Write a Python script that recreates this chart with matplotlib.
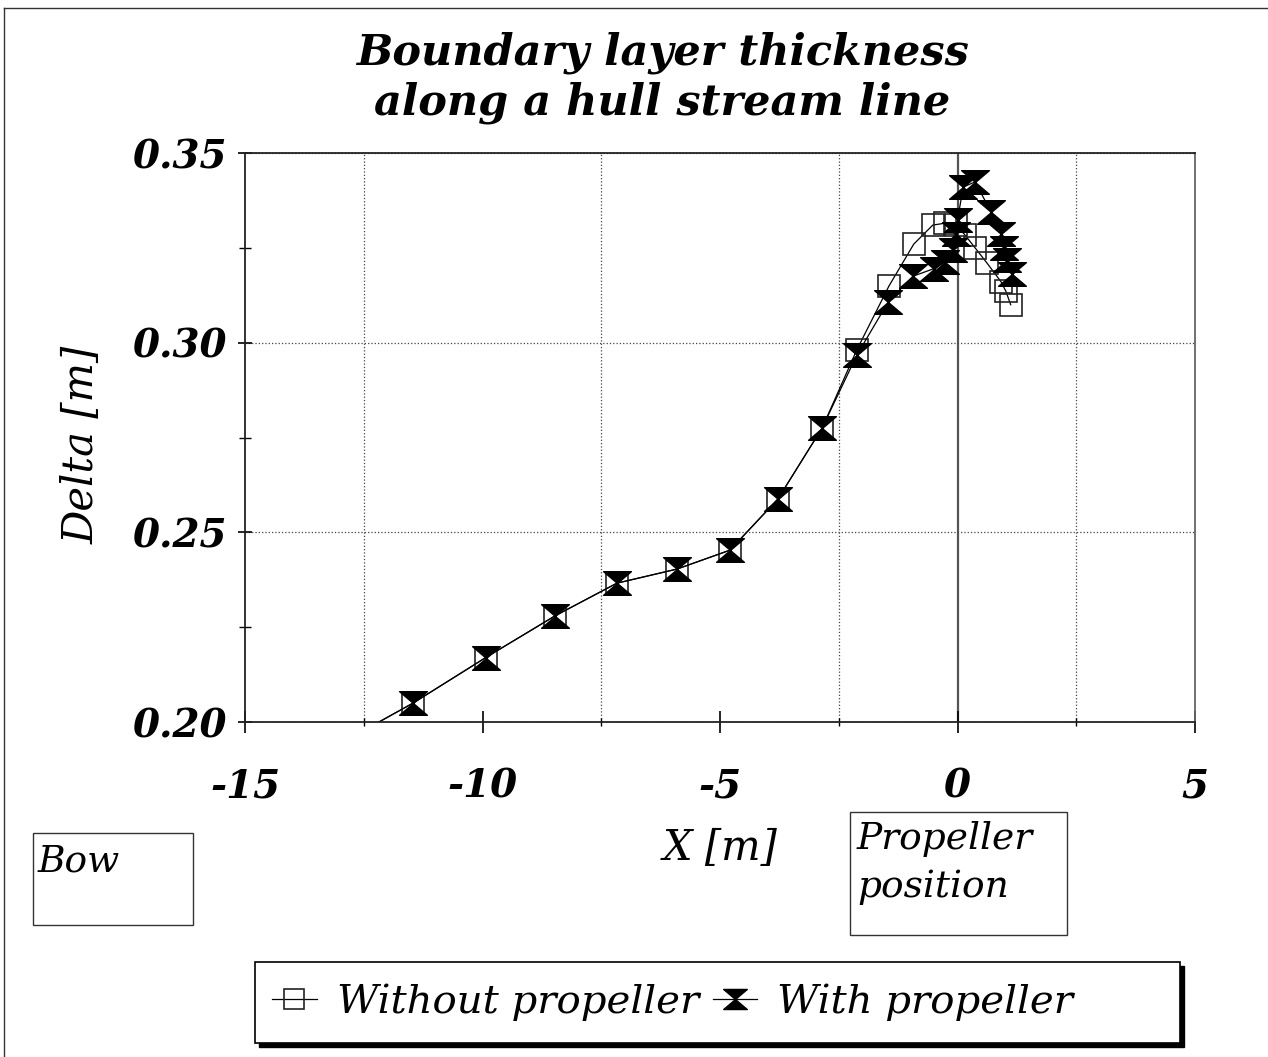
import numpy as np
import matplotlib
matplotlib.use("Agg")
import matplotlib.pyplot as plt
from matplotlib.path import Path
from matplotlib.patches import Rectangle
from matplotlib.lines import Line2D
from matplotlib.ticker import FixedLocator

# data (first point lies just below the axis, clipped)
x_without = [-12.9, -11.46, -9.93, -8.47, -7.17, -5.91, -4.79, -3.78, -2.85, -2.12,
             -1.44, -0.92, -0.52, -0.26, -0.03, 0.15, 0.37, 0.62, 0.92, 1.02, 1.12]
y_without = [0.195, 0.205, 0.217, 0.228, 0.2366, 0.2403, 0.2453, 0.2588, 0.2775, 0.2981,
             0.315, 0.326, 0.331, 0.3315, 0.331, 0.3285, 0.325, 0.321, 0.316, 0.3135, 0.310]

x_with = [-12.9, -11.46, -9.93, -8.47, -7.17, -5.91, -4.79, -3.78, -2.85, -2.12,
          -1.46, -0.94, -0.50, -0.26, -0.09, -0.03, 0.0, 0.12, 0.37, 0.71, 0.92,
          0.98, 1.04, 1.14]
y_with = [0.195, 0.205, 0.217, 0.228, 0.2366, 0.2403, 0.2453, 0.2588, 0.2775, 0.2967,
          0.3107, 0.3175, 0.3195, 0.3212, 0.3245, 0.3286, 0.3323, 0.3410, 0.3424, 0.3344,
          0.3287, 0.325, 0.3218, 0.3181]

x_major = [-15, -10, -5, 0, 5]
x_minor = [-12.5, -7.5, -2.5, 2.5]
y_major = [0.20, 0.25, 0.30, 0.35]
y_minor = [0.225, 0.275, 0.325]

W, H = 1268, 1057


def fx(px):
    return px / W


def fy(py):
    return 1 - py / H


serif = "DejaVu Serif"

# hourglass marker
hourglass = Path([(-1, 0.85), (1, 0.85), (-1, -0.85), (1, -0.85), (-1, 0.85)],
                 [Path.MOVETO, Path.LINETO, Path.LINETO, Path.LINETO, Path.CLOSEPOLY])

fig = plt.figure(figsize=(W / 100, H / 100), dpi=100)
ax = fig.add_axes([fx(245), fy(722), fx(950), 569 / H])

ax.plot(x_without, y_without, color="black", lw=0.9, marker="s", ms=16.5,
        mfc="none", mec="#222222", mew=1.2, label="Without propeller")
ax.plot(x_with, y_with, color="black", lw=0.9, marker=hourglass, ms=20,
        mfc="black", mec="black", label="With propeller")

ax.set_xlim(-15, 5)
ax.set_ylim(0.2, 0.35)
ax.xaxis.set_major_locator(FixedLocator(x_major))
ax.xaxis.set_minor_locator(FixedLocator(x_minor))
ax.yaxis.set_major_locator(FixedLocator(y_major))
ax.yaxis.set_minor_locator(FixedLocator(y_minor))
ax.set_xticklabels([str(v) for v in x_major])
ax.set_yticklabels(["%.2f" % v for v in y_major])

ax.grid(True, axis="y", which="major", ls=":", color="#444444", lw=0.9)
ax.grid(True, axis="x", which="minor", ls=":", color="#444444", lw=0.9)
ax.axvline(0, color="#555555", lw=1.6, zorder=1)

for s in ax.spines.values():
    s.set_color("#222222")
    s.set_linewidth(1.3)
ax.spines["right"].set_color("#666666")

ax.tick_params(axis="x", which="major", direction="inout", length=16, width=1.2,
               pad=25)
ax.tick_params(axis="x", which="minor", direction="inout", length=6, width=1)
ax.tick_params(axis="y", which="major", direction="inout", length=10, width=1.2,
               pad=8)
ax.tick_params(axis="y", which="minor", direction="inout", length=8, width=1)
for lab in ax.get_xticklabels() + ax.get_yticklabels():
    lab.set_fontfamily(serif)
    lab.set_fontstyle("italic")
    lab.set_fontweight("bold")
    lab.set_fontsize(28)

# titles and labels
fig.text(fx(662), fy(78), "Boundary layer thickness\nalong a hull stream line",
         ha="center", va="center", family=serif, style="italic", weight="bold",
         fontsize=31, linespacing=1.22)
fig.text(fx(82), fy(445), "Delta [m]", rotation=90, ha="center", va="center",
         family=serif, style="italic", fontsize=30)
fig.text(fx(720), fy(848), "X [m]", ha="center", va="center",
         family=serif, style="italic", fontsize=30)

# annotation boxes
fig.patches.append(Rectangle((fx(33), fy(925)), 160 / W, 92 / H, transform=fig.transFigure,
                             fill=False, ec="#333333", lw=1))
fig.text(fx(38), fy(862), "Bow", ha="left", va="center", family=serif,
         style="italic", fontsize=27)
fig.patches.append(Rectangle((fx(850), fy(935)), 217 / W, 123 / H, transform=fig.transFigure,
                             fill=False, ec="#333333", lw=1))
fig.text(fx(857), fy(863), "Propeller\nposition", ha="left", va="center",
         family=serif, style="italic", fontsize=27, linespacing=1.4)

# legend box with hard shadow
fig.patches.append(Rectangle((fx(259), fy(1047)), 925 / W, 81 / H, transform=fig.transFigure,
                             fc="black", ec="black", lw=1))
fig.patches.append(Rectangle((fx(255), fy(1043)), 925 / W, 81 / H, transform=fig.transFigure,
                             fc="white", ec="black", lw=1.2))
fig.legend(loc="center left", bbox_to_anchor=(fx(236), fy(1002)), frameon=False,
           ncol=2, handlelength=1.1, handletextpad=0.5, columnspacing=0.35,
           markerscale=0.85,
           prop={"family": serif, "style": "italic", "size": 29})

# outer page frame
fig.add_artist(Line2D([fx(4), fx(4)], [0, fy(8)], transform=fig.transFigure,
                      color="#333333", lw=1))
fig.add_artist(Line2D([fx(4), 1], [fy(8), fy(8)], transform=fig.transFigure,
                      color="#333333", lw=1))

fig.savefig("out.png", dpi=100)
